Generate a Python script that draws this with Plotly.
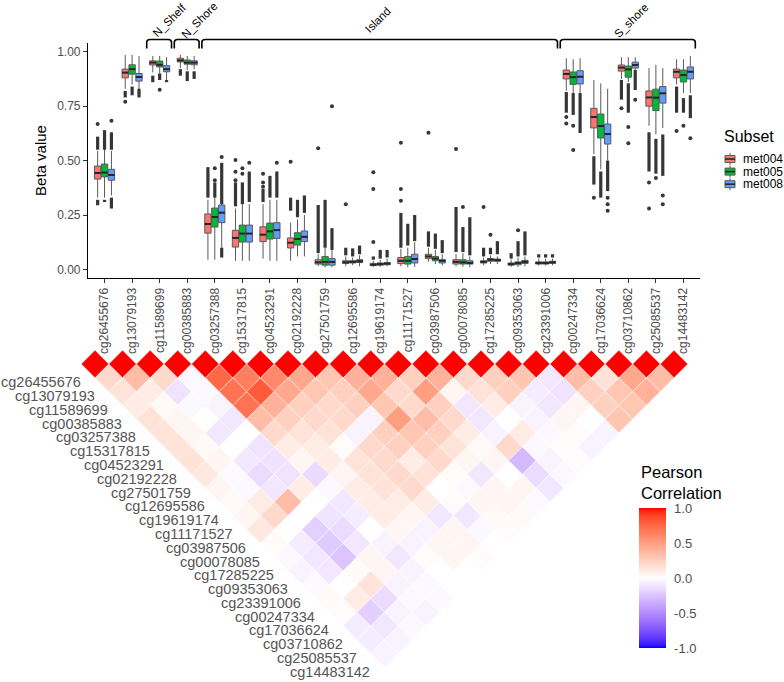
import numpy as np
import plotly.graph_objects as go

# ---------------- data ----------------
cpg_ids = ["cg26455676", "cg13079193", "cg11589699", "cg00385883", "cg03257388",
           "cg15317815", "cg04523291", "cg02192228", "cg27501759", "cg12695586",
           "cg19619174", "cg11171527", "cg03987506", "cg00078085", "cg17285225",
           "cg09353063", "cg23391006", "cg00247334", "cg17036624", "cg03710862",
           "cg25085537", "cg14483142"]

subset_names = ["met004", "met005", "met008"]
subset_colors = ["#F8766D", "#00BA38", "#619CFF"]

region_names = ["N_Shelf", "N_Shore", "Island", "S_shore"]
region_first = [2, 3, 4, 17]
region_last = [2, 3, 16, 21]

met004_q1 = [0.415, 0.880, 0.939, 0.953, 0.167, 0.103, 0.128, 0.099, 0.025, 0.028, 0.018, 0.027, 0.050, 0.025, 0.030, 0.020, 0.025, 0.875, 0.650, 0.911, 0.750, 0.880]
met004_med = [0.443, 0.904, 0.950, 0.960, 0.209, 0.145, 0.160, 0.123, 0.033, 0.033, 0.022, 0.040, 0.060, 0.035, 0.035, 0.025, 0.030, 0.898, 0.700, 0.927, 0.790, 0.908]
met004_q3 = [0.475, 0.920, 0.958, 0.970, 0.255, 0.180, 0.196, 0.145, 0.045, 0.040, 0.028, 0.055, 0.070, 0.045, 0.040, 0.030, 0.035, 0.916, 0.740, 0.939, 0.820, 0.920]
met004_lo = [0.330, 0.830, 0.905, 0.925, 0.045, 0.040, 0.050, 0.040, 0.015, 0.015, 0.012, 0.015, 0.035, 0.015, 0.020, 0.012, 0.018, 0.820, 0.530, 0.875, 0.660, 0.850]
met004_hi = [0.545, 0.985, 0.980, 0.985, 0.320, 0.280, 0.300, 0.215, 0.070, 0.060, 0.040, 0.095, 0.100, 0.070, 0.055, 0.045, 0.050, 0.970, 0.870, 0.975, 0.925, 0.965]

met005_q1 = [0.425, 0.897, 0.930, 0.943, 0.195, 0.126, 0.140, 0.112, 0.020, 0.030, 0.020, 0.025, 0.040, 0.025, 0.038, 0.022, 0.025, 0.850, 0.604, 0.883, 0.730, 0.861]
met005_med = [0.445, 0.920, 0.940, 0.950, 0.241, 0.165, 0.175, 0.140, 0.035, 0.035, 0.025, 0.040, 0.050, 0.033, 0.045, 0.030, 0.030, 0.883, 0.659, 0.919, 0.789, 0.893]
met005_q3 = [0.484, 0.940, 0.957, 0.962, 0.282, 0.204, 0.213, 0.169, 0.060, 0.040, 0.030, 0.060, 0.060, 0.045, 0.050, 0.035, 0.035, 0.907, 0.714, 0.934, 0.828, 0.916]
met005_lo = [0.330, 0.850, 0.900, 0.915, 0.045, 0.040, 0.040, 0.060, 0.010, 0.020, 0.012, 0.010, 0.025, 0.012, 0.025, 0.012, 0.018, 0.770, 0.460, 0.860, 0.620, 0.810]
met005_hi = [0.565, 0.985, 0.980, 0.980, 0.380, 0.300, 0.320, 0.230, 0.100, 0.055, 0.045, 0.100, 0.090, 0.075, 0.065, 0.055, 0.050, 0.965, 0.855, 0.975, 0.940, 0.965]

met008_q1 = [0.410, 0.865, 0.908, 0.940, 0.215, 0.126, 0.143, 0.128, 0.020, 0.032, 0.022, 0.030, 0.030, 0.025, 0.038, 0.028, 0.028, 0.852, 0.576, 0.925, 0.764, 0.875]
met008_med = [0.434, 0.884, 0.920, 0.950, 0.261, 0.165, 0.181, 0.150, 0.035, 0.038, 0.027, 0.048, 0.040, 0.030, 0.043, 0.035, 0.033, 0.885, 0.622, 0.939, 0.809, 0.908]
met008_q3 = [0.460, 0.900, 0.936, 0.958, 0.296, 0.204, 0.215, 0.177, 0.050, 0.045, 0.032, 0.070, 0.045, 0.040, 0.048, 0.042, 0.038, 0.913, 0.668, 0.952, 0.840, 0.930]
met008_lo = [0.340, 0.820, 0.870, 0.920, 0.100, 0.040, 0.040, 0.060, 0.010, 0.015, 0.015, 0.012, 0.020, 0.010, 0.025, 0.015, 0.020, 0.780, 0.500, 0.905, 0.650, 0.810]
met008_hi = [0.545, 0.980, 0.975, 0.980, 0.410, 0.300, 0.320, 0.250, 0.090, 0.065, 0.050, 0.125, 0.070, 0.060, 0.060, 0.060, 0.050, 0.970, 0.830, 0.975, 0.925, 0.980]

# dense stacks of outliers [from, to] and isolated outliers, per CpG
met004_runs = [[[0.55, 0.61], [0.295, 0.32]], [[0.79, 0.82]], [[0.86, 0.89]], [[0.89, 0.92]], [[0.33, 0.47]],
               [[0.29, 0.40]], [[0.31, 0.37]], [[0.27, 0.33]], [[0.075, 0.296]], [[0.065, 0.10]],
               [[0.045, 0.06]], [[0.10, 0.26]], [[0.105, 0.175]], [[0.08, 0.287]], [[0.06, 0.10]],
               [[0.05, 0.075]], [[0.055, 0.07]], [[0.72, 0.815]], [[0.39, 0.52]], [[0.78, 0.87]],
               [[0.45, 0.63]], [[0.72, 0.84]]]
met004_iso = [[0.668], [0.77], [], [], [], [0.503, 0.449, 0.41], [0.44, 0.40, 0.38], [0.495], [0.557], [0.30],
              [0.126, 0.447, 0.37], [0.582, 0.37, 0.316], [0.628], [0.553], [0.287], [], [], [0.70, 0.67], [0.33], [0.74],
              [0.28, 0.40], [0.636]]

met005_runs = [[[0.55, 0.64], [0.31, 0.32]], [[0.80, 0.84]], [[0.87, 0.90]], [[0.865, 0.91]], [[0.33, 0.40]],
               [[0.30, 0.40]], [[0.33, 0.43]], [[0.24, 0.32]], [[0.10, 0.32]], [[0.06, 0.097]],
               [[0.05, 0.09]], [[0.11, 0.21]], [[0.095, 0.165]], [[0.08, 0.195]], [[0.07, 0.10]],
               [[0.06, 0.13]], [[0.055, 0.07]], [[0.71, 0.81]], [[0.33, 0.45]], [[0.72, 0.855]],
               [[0.44, 0.60]], [[0.72, 0.787]]]
met005_iso = [[], [], [0.825], [], [0.465, 0.41], [0.465, 0.44], [], [], [], [],
              [], [], [], [0.287], [0.16], [0.18], [], [0.66, 0.549], [], [0.654, 0.58],
              [0.42], [0.66]]

met008_runs = [[[0.55, 0.63], [0.28, 0.33]], [[0.79, 0.83]], [[0.86, 0.87]], [[0.875, 0.91]], [[0.30, 0.49], [0.055, 0.10]],
               [[0.31, 0.45]], [[0.33, 0.45]], [[0.26, 0.34]], [[0.09, 0.19]], [[0.07, 0.11]],
               [[0.055, 0.09]], [[0.13, 0.25]], [[0.075, 0.135]], [[0.065, 0.24]], [[0.07, 0.13]],
               [[0.065, 0.175]], [[0.055, 0.07]], [[0.627, 0.81]], [[0.36, 0.50]], [[0.824, 0.916]],
               [[0.43, 0.62]], [[0.695, 0.80]]]
met008_iso = [[0.683], [], [], [], [0.517], [0.49], [0.49], [], [0.75], [],
              [], [], [], [], [], [], [], [], [0.33, 0.30, 0.27], [0.78],
              [0.34, 0.30], [0.603]]

# Pearson correlation, upper triangle rows (row i holds columns i+1..21)
corr_upper = [
    [0.20, 0.15, 0.10, 0.15, 0.15, 0.15, 0.15, 0.12, 0.05, 0.03, 0.05, 0.12, 0.02, -0.03, -0.05, -0.02, 0.03, 0.02, -0.08, -0.08, -0.05],
    [0.35, 0.10, 0.03, 0.05, 0.05, 0.03, 0.05, -0.02, -0.03, 0.10, 0.20, 0.00, -0.08, -0.10, -0.10, 0.00, 0.10, -0.20, -0.10, -0.05],
    [0.20, -0.12, -0.03, 0.00, -0.10, 0.00, -0.10, -0.15, -0.10, 0.35, 0.00, -0.20, -0.22, -0.25, 0.02, 0.15, -0.15, -0.05, -0.03],
    [-0.03, -0.03, -0.05, -0.10, 0.00, -0.12, -0.12, -0.12, 0.10, 0.00, -0.12, -0.15, -0.10, 0.05, 0.05, -0.05, -0.03, -0.05],
    [0.75, 0.70, 0.70, 0.35, 0.20, 0.10, 0.05, -0.15, -0.03, -0.10, -0.08, 0.00, -0.05, -0.10, -0.05, -0.03, -0.03],
    [0.65, 0.80, 0.40, 0.25, 0.15, 0.10, 0.10, 0.05, 0.10, 0.10, 0.10, 0.05, -0.05, 0.02, 0.00, 0.00],
    [0.60, 0.45, 0.25, 0.20, 0.15, 0.02, 0.15, 0.15, 0.15, 0.10, 0.05, -0.05, 0.05, 0.05, 0.00],
    [0.45, 0.30, 0.20, 0.20, -0.05, 0.20, 0.20, 0.20, 0.20, 0.10, -0.10, 0.05, 0.05, 0.02],
    [0.30, 0.25, 0.25, -0.05, 0.25, 0.25, 0.10, 0.15, 0.00, 0.02, -0.10, -0.03, 0.00],
    [0.40, 0.45, 0.30, 0.50, 0.30, 0.25, 0.20, 0.02, -0.02, 0.05, 0.03, 0.02],
    [0.40, 0.20, 0.20, 0.35, 0.25, 0.15, 0.05, -0.10, 0.05, 0.05, 0.03],
    [0.25, 0.50, 0.25, 0.20, 0.10, 0.03, 0.05, 0.00, 0.05, -0.02],
    [0.40, 0.05, -0.10, -0.10, -0.05, 0.20, -0.30, -0.15, -0.10],
    [0.20, 0.15, 0.10, 0.00, 0.10, -0.03, -0.05, -0.03],
    [0.25, 0.25, -0.05, -0.05, -0.03, 0.02, 0.02],
    [0.30, -0.08, -0.10, 0.05, 0.02, -0.05],
    [-0.10, -0.12, 0.05, 0.00, -0.05],
    [0.35, 0.25, 0.25, 0.30],
    [0.15, 0.30, 0.30],
    [0.45, 0.40],
    [0.35],
]

# ---------------- styling helpers ----------------
FONT = "Liberation Sans, Arial, sans-serif"
W, H = 784, 682
region_label_dx = [0.39, 0.48, -0.06, 0.15]   # label nudges (category units)


def srgb_to_lab(hexc):
    rgb = np.array([int(hexc[i:i + 2], 16) for i in (1, 3, 5)]) / 255.0
    lin = np.where(rgb <= 0.04045, rgb / 12.92, ((rgb + 0.055) / 1.055) ** 2.4)
    M = np.array([[0.4124, 0.3576, 0.1805], [0.2126, 0.7152, 0.0722], [0.0193, 0.1192, 0.9505]])
    xyz = M @ lin / np.array([0.95047, 1.0, 1.08883])
    f = np.where(xyz > 0.008856, np.cbrt(xyz), 7.787 * xyz + 16 / 116)
    return np.array([116 * f[1] - 16, 500 * (f[0] - f[1]), 200 * (f[1] - f[2])])


def lab_to_rgbstr(lab):
    L, a, b = lab
    fy = (L + 16) / 116
    fx = fy + a / 500
    fz = fy - b / 200
    f = np.array([fx, fy, fz])
    xyz = np.where(f ** 3 > 0.008856, f ** 3, (f - 16 / 116) / 7.787) * np.array([0.95047, 1.0, 1.08883])
    Mi = np.array([[3.2406, -1.5372, -0.4986], [-0.9689, 1.8758, 0.0415], [0.0557, -0.2040, 1.0570]])
    lin = np.clip(Mi @ xyz, 0, 1)
    rgb = np.where(lin <= 0.0031308, 12.92 * lin, 1.055 * lin ** (1 / 2.4) - 0.055)
    r, g, bb = (np.clip(rgb, 0, 1) * 255).round().astype(int)
    return f"rgb({r},{g},{bb})"


LAB_LOW, LAB_MID, LAB_HIGH = srgb_to_lab("#0000FF"), srgb_to_lab("#FFFFFF"), srgb_to_lab("#FF0000")


def corr_color(v):
    v = max(-1.0, min(1.0, v))
    if v < 0:
        return lab_to_rgbstr(LAB_MID + (LAB_LOW - LAB_MID) * (-v))
    return lab_to_rgbstr(LAB_MID + (LAB_HIGH - LAB_MID) * v)


colorscale = [[k / 40, corr_color(-1 + 2 * k / 40)] for k in range(41)]

fig = go.Figure()

# ---------------- boxplot ----------------
box_stats = {
    "met004": (met004_q1, met004_med, met004_q3, met004_lo, met004_hi, met004_runs, met004_iso),
    "met005": (met005_q1, met005_med, met005_q3, met005_lo, met005_hi, met005_runs, met005_iso),
    "met008": (met008_q1, met008_med, met008_q3, met008_lo, met008_hi, met008_runs, met008_iso),
}
offsets = [-0.25, 0.0, 0.25]
bw = 0.23
n = len(cpg_ids)
for s, name in enumerate(subset_names):
    q1, med, q3, lo, hi, runs, iso = box_stats[name]
    xs = [k + offsets[s] for k in range(n)]
    fig.add_trace(go.Box(x=xs, q1=q1, median=med, q3=q3, lowerfence=lo, upperfence=hi,
                         width=bw, whiskerwidth=0, fillcolor=subset_colors[s],
                         line=dict(color="#5a5a5a", width=1), boxpoints=False,
                         showlegend=False, hoverinfo="skip", xaxis="x", yaxis="y"))
    mx, my = [], []
    for k in range(n):
        mx += [xs[k] - bw / 2, xs[k] + bw / 2, None]
        my += [med[k], med[k], None]
    fig.add_trace(go.Scatter(x=mx, y=my, mode="lines", line=dict(color="#262626", width=2),
                             showlegend=False, hoverinfo="skip", xaxis="x", yaxis="y"))
    rx, ry = [], []
    for k in range(n):
        for a, b in runs[k]:
            rx += [xs[k], xs[k], None]
            ry += [a, b, None]
    fig.add_trace(go.Scatter(x=rx, y=ry, mode="lines", line=dict(color="#363636", width=3.2),
                             showlegend=False, hoverinfo="skip", xaxis="x", yaxis="y"))
    px_, py_ = [], []
    for k in range(n):
        for v in iso[k]:
            px_.append(xs[k])
            py_.append(v)
    fig.add_trace(go.Scatter(x=px_, y=py_, mode="markers", marker=dict(color="#363636", size=4),
                             showlegend=False, hoverinfo="skip", xaxis="x", yaxis="y"))

# region brackets and labels
y_br_top = 1 - 39.5 / H
y_br_bot = 1 - 48.5 / H
for r, rname in enumerate(region_names):
    x0 = region_first[r] - 0.47
    x1 = region_last[r] + 0.43
    d = 0.12
    path = (f"M {x0},{y_br_bot} L {x0},{y_br_top - 0.004} Q {x0},{y_br_top} {x0 + d},{y_br_top} "
            f"L {x1 - d},{y_br_top} Q {x1},{y_br_top} {x1},{y_br_top - 0.004} L {x1},{y_br_bot}")
    fig.add_shape(type="path", path=path, xref="x", yref="paper",
                  line=dict(color="black", width=1.6))
    fig.add_annotation(x=(x0 + x1) / 2 + region_label_dx[r], y=1 - 20.5 / H, xref="x", yref="paper",
                       text=rname, textangle=-45, showarrow=False,
                       font=dict(family=FONT, size=11.5, color="black"),
                       xanchor="center", yanchor="middle", borderpad=0)

# ---------------- correlation triangle ----------------
step = 13.786   # pixels per half-cell
x_c0, y_c0 = 95.0, 364.0
for i in range(n):
    for j in range(i, n):
        val = 1.0 if i == j else corr_upper[i][j - i - 1]
        u, v = i + j, j - i
        hs = 0.99
        fig.add_trace(go.Scatter(
            x=[u - hs, u, u + hs, u, u - hs], y=[v, v - hs, v, v + hs, v],
            mode="lines", fill="toself", fillcolor=corr_color(val),
            line=dict(color="rgba(255,255,255,0.6)", width=0.5),
            showlegend=False, hoverinfo="skip", xaxis="x2", yaxis="y2"))

for k, name in enumerate(cpg_ids):
    fig.add_annotation(x=k - 0.95, y=k + 1.33, xref="x2", yref="y2", text=name, showarrow=False,
                       xanchor="right", yanchor="middle", borderpad=0,
                       font=dict(family=FONT, size=14.5, color="#555555"))

# colorbar carrier
fig.add_trace(go.Scatter(
    x=[-100], y=[-100], mode="markers", xaxis="x2", yaxis="y2", showlegend=False, hoverinfo="skip",
    marker=dict(color=[0], cmin=-1, cmax=1, colorscale=colorscale, showscale=True, size=1,
                colorbar=dict(x=639 / W, xanchor="left", y=1 - 508 / H, yanchor="top",
                              len=140, lenmode="pixels", thickness=27, thicknessmode="pixels",
                              outlinewidth=0, xpad=0, ypad=0,
                              tickvals=[-1, -0.5, 0, 0.5, 1],
                              ticktext=["-1.0", "-0.5", "0.0", "0.5", "1.0"],
                              ticks="outside", ticklen=6, tickcolor="white",
                              tickfont=dict(family=FONT, size=13, color="#4d4d4d")))))
fig.add_annotation(x=640 / W, y=1 - 482 / H, xref="paper", yref="paper",
                   text="Pearson<br>Correlation", showarrow=False, align="left",
                   xanchor="left", yanchor="middle", borderpad=0,
                   font=dict(family=FONT, size=16.5, color="black"))

# ---------------- manual legend ----------------
fig.add_annotation(x=723 / W, y=1 - 136 / H, xref="paper", yref="paper", text="Subset",
                   showarrow=False, xanchor="left", yanchor="middle", borderpad=0,
                   font=dict(family=FONT, size=16, color="black"))
for s, name in enumerate(subset_names):
    cy = 159 + 12.6 * s
    fig.add_shape(type="line", xref="paper", yref="paper", x0=730 / W, x1=730 / W,
                  y0=1 - (cy - 6) / H, y1=1 - (cy + 6) / H, line=dict(color="#5a5a5a", width=1))
    fig.add_shape(type="rect", xref="paper", yref="paper", x0=725 / W, x1=735 / W,
                  y0=1 - (cy - 3.5) / H, y1=1 - (cy + 3.5) / H,
                  fillcolor=subset_colors[s], line=dict(color="#5a5a5a", width=1))
    fig.add_shape(type="line", xref="paper", yref="paper", x0=725 / W, x1=735 / W,
                  y0=1 - cy / H, y1=1 - cy / H, line=dict(color="#262626", width=1.6))
    fig.add_annotation(x=742 / W, y=1 - cy / H, xref="paper", yref="paper", text=name,
                       showarrow=False, xanchor="left", yanchor="middle", borderpad=0,
                       font=dict(family=FONT, size=12, color="black"))

# ---------------- layout ----------------
fig.update_layout(
    width=W, height=H, margin=dict(l=0, r=0, t=0, b=0),
    paper_bgcolor="white", plot_bgcolor="rgba(0,0,0,0)", showlegend=False,
    font=dict(family=FONT),
    xaxis=dict(domain=[88 / W, 700 / W], range=[-0.6, n - 1 + 0.6], anchor="y",
               tickmode="array", tickvals=list(range(n)), ticktext=cpg_ids, tickangle=-90,
               ticks="outside", ticklen=4, tickcolor="#333333",
               tickfont=dict(family=FONT, size=12, color="#4d4d4d"),
               showline=True, linecolor="black", linewidth=1.2, showgrid=False, zeroline=False),
    yaxis=dict(domain=[1 - 278 / H, 1 - 43 / H], range=[-0.039, 1.040], anchor="x",
               tickmode="array", tickvals=[0, 0.25, 0.5, 0.75, 1.0],
               ticktext=["0.00", "0.25", "0.50", "0.75", "1.00"],
               ticks="outside", ticklen=4, tickcolor="#333333",
               tickfont=dict(family=FONT, size=12, color="#4d4d4d"),
               title=dict(text="Beta value", font=dict(family=FONT, size=15, color="black"), standoff=6),
               showline=True, linecolor="black", linewidth=1.2, showgrid=False, zeroline=False),
    xaxis2=dict(domain=[0, 1], range=[-x_c0 / step, (W - x_c0) / step], anchor="y2",
                visible=False, showgrid=False, zeroline=False),
    yaxis2=dict(domain=[0, 1], range=[(H - y_c0) / step, -y_c0 / step], anchor="x2",
                visible=False, showgrid=False, zeroline=False),
)

fig.write_html("out.html")
